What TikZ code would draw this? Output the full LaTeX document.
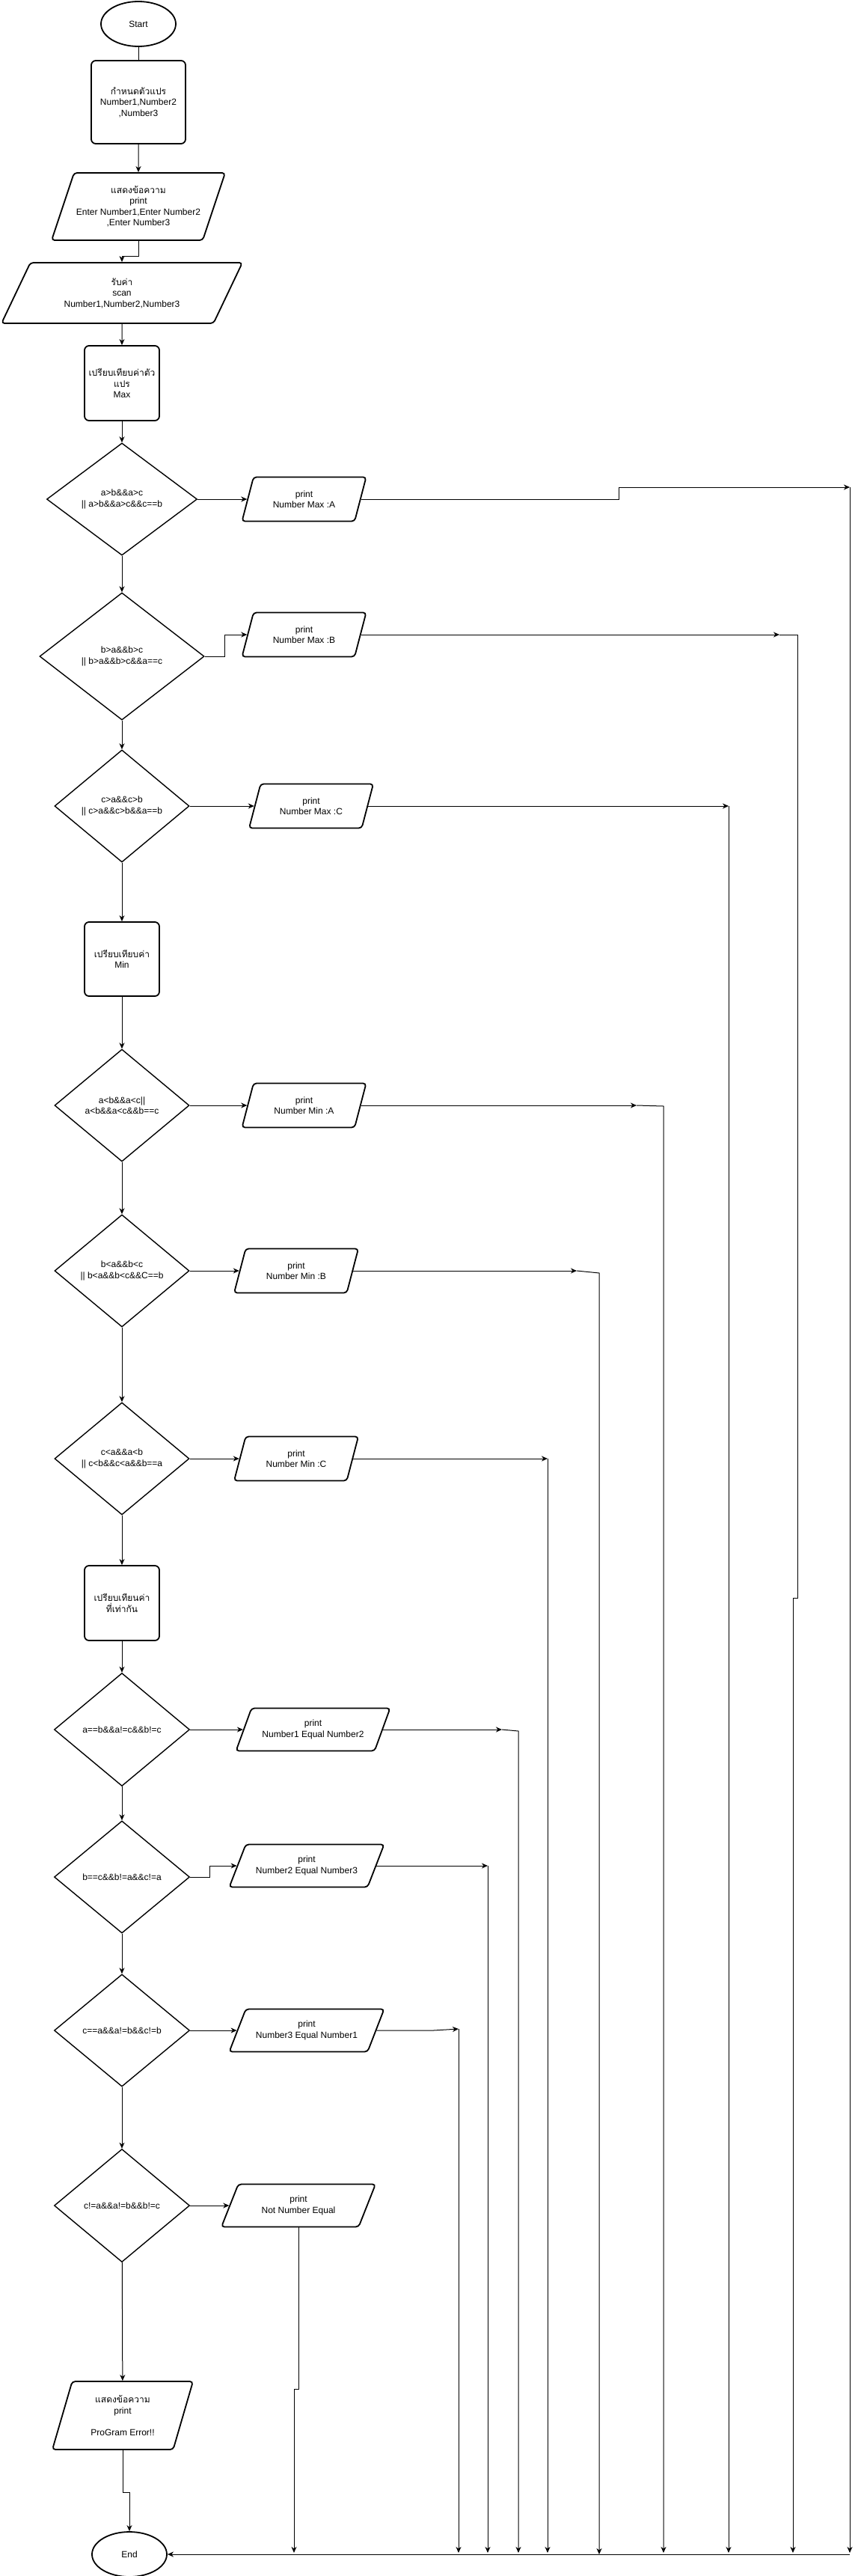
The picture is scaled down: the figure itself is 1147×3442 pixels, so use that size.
\documentclass[tikz,border=0pt]{standalone}
\usepackage{fontspec}
\setmainfont{Liberation Sans}
\newfontfamily\thaifont[Script=Thai]{Loma}
\usetikzlibrary{shapes.geometric,arrows.meta}
\tikzset{>={Stealth[length=8pt,width=7pt,inset=2.5pt]}}
\tikzset{
    every node/.style={font=\fontsize{12}{14.5}\selectfont, align=center, inner sep=0pt},
    term/.style={ellipse, draw, line width=1.8pt, minimum width=100pt, minimum height=60pt},
    procbox/.style={rectangle, draw, rounded corners=6pt, line width=1.8pt, minimum width=100pt, minimum height=100pt},
    decide/.style={diamond, draw, line width=1.4pt, minimum width=181pt, minimum height=150pt},
    iobox/.style={trapezium, draw, rounded corners=4pt, line width=1.8pt, trapezium stretches body},
    prt/.style={iobox, trapezium left angle=56.5, trapezium right angle=123.5, minimum width=166pt, minimum height=59pt},
    link/.style={->, line width=1pt}
}

\begin{document}
\begin{tikzpicture}[x=1pt, y=-1pt]

    \useasboundingbox (0,0) rectangle (1147,3442);

    % main column
    \node[term] (start) at (185,32) {Start};
    \node[procbox, minimum width=126pt, minimum height=111pt] (init) at (185,136.5) {{\thaifont กำหนดตัวแปร}\\Number1,Number2\\,Number3};
    \node[iobox, trapezium left angle=61.4, trapezium right angle=118.6, minimum width=232pt, minimum height=90pt] (msg) at (185,276) {{\thaifont แสดงข้อความ}\\print\\Enter Number1,Enter Number2\\,Enter Number3};
    \node[iobox, trapezium left angle=46.1, trapezium right angle=133.9, minimum width=322pt, minimum height=81pt] (scan) at (163,391.5) {{\thaifont รับค่า}\\scan\\Number1,Number2,Number3};

    \node[procbox] (maxbox) at (163,512) {{\thaifont เปรียบเทียบค่าตัว}\\{\thaifont แปร}\\Max};
    \node[decide, minimum width=201pt] (cmaxa) at (163,667) {a>b\&\&a>c\\|| a>b\&\&a>c\&\&c==b};
    \node[decide, minimum width=220pt, minimum height=170pt] (cmaxb) at (163,877) {b>a\&\&b>c\\|| b>a\&\&b>c\&\&a==c};
    \node[decide, minimum width=180pt] (cmaxc) at (163,1077) {c>a\&\&c>b\\|| c>a\&\&c>b\&\&a==b};

    \node[procbox, minimum height=99pt] (minbox) at (163,1281.5) {{\thaifont เปรียบเทียบค่า}\\Min};
    \node[decide, minimum width=180pt] (cmina) at (163,1477) {a<b\&\&a<c||\\a<b\&\&a<c\&\&b==c};
    \node[decide, minimum width=180pt] (cminb) at (163,1698) {b<a\&\&b<c\\|| b<a\&\&b<c\&\&C==b};
    \node[decide, minimum width=180pt] (cminc) at (163,1949) {c<a\&\&a<b\\|| c<b\&\&c<a\&\&b==a};

    \node[procbox] (eqbox) at (163,2142) {{\thaifont เปรียบเทียนค่า}\\{\thaifont ที่เท่ากัน}};
    \node[decide, minimum height=151pt] (ceqab) at (163,2311) {a==b\&\&a!=c\&\&b!=c};
    \node[decide] (ceqbc) at (163,2508) {b==c\&\&b!=a\&\&c!=a};
    \node[decide] (ceqca) at (163,2713) {c==a\&\&a!=b\&\&c!=b};
    \node[decide, minimum height=151pt] (cneq) at (163,2947) {c!=a\&\&a!=b\&\&b!=c};

    \node[iobox, trapezium left angle=63.7, trapezium right angle=116.3, minimum width=188pt, minimum height=91pt] (err) at (164,3227.5) {{\thaifont แสดงข้อความ}\\print\\ \\ProGram Error!!};
    \node[term] (end) at (173,3413) {End};

    % print boxes
    \node[prt] (pmaxa) at (406.5,667) {print\\Number Max :A};
    \node[prt] (pmaxb) at (406.5,848) {print\\Number Max :B};
    \node[prt] (pmaxc) at (416,1077) {print\\Number Max :C};
    \node[prt] (pmina) at (406.5,1477) {print\\Number Min :A};
    \node[prt] (pminb) at (396,1698) {print\\Number Min :B};
    \node[prt] (pminc) at (396,1949) {print\\Number Min :C};
    \node[iobox, trapezium left angle=51.1, trapezium right angle=128.9, minimum width=206pt, minimum height=57pt] (peqab) at (418.5,2311) {print\\Number1 Equal Number2};
    \node[iobox, trapezium left angle=49.3, trapezium right angle=130.7, minimum width=207pt, minimum height=57pt] (peqbc) at (410,2493) {print\\Number2 Equal Number3};
    \node[iobox, trapezium left angle=49.3, trapezium right angle=130.7, minimum width=207pt, minimum height=57pt] (peqca) at (410,2713) {print\\Number3 Equal Number1};
    \node[iobox, trapezium left angle=48.7, trapezium right angle=131.3, minimum width=206pt, minimum height=57pt] (pneq) at (399,2947) {print\\Not Number Equal};

    % rail ends
    \coordinate (mxa) at (1136,651);
    \coordinate (mxb) at (1042,848);
    \coordinate (mxc) at (974,1077);
    \coordinate (mna) at (851,1477);
    \coordinate (mnb) at (771,1698);
    \coordinate (mnc) at (732,1949);
    \coordinate (eab) at (671,2311);
    \coordinate (ebc) at (652,2493);
    \coordinate (eca) at (613,2711);
    \coordinate (bot) at (0,3411);
    \coordinate (base) at (1136,3413);

    % flow down
    \draw[line width=1pt] (start) -- (init);
    \draw[link] (init) -- (msg);
    \draw[link] (msg.south) -- ++(0,21) -| (scan.north);
    \draw[link] (scan) -- (maxbox);
    \draw[link] (maxbox) -- (cmaxa);
    \draw[link] (cmaxa) -- (cmaxb);
    \draw[link] (cmaxb) -- (cmaxc);
    \draw[link] (cmaxc) -- (minbox);
    \draw[link] (minbox) -- (cmina);
    \draw[link] (cmina) -- (cminb);
    \draw[link] (cminb) -- (cminc);
    \draw[link] (cminc) -- (eqbox);
    \draw[link] (eqbox) -- (ceqab);
    \draw[link] (ceqab) -- (ceqbc);
    \draw[link] (ceqbc) -- (ceqca);
    \draw[link] (ceqca) -- (cneq);
    \draw[link] (cneq) -- (err);
    \draw[link] (err.south) -- ++(0,57) -| (end.north);

    % true branches
    \draw[link] (cmaxa.east) -- (pmaxa.left side);
    \draw[link] (cmaxb.east) -- ++(27,0) |- (pmaxb.left side);
    \draw[link] (cmaxc.east) -- (pmaxc.left side);
    \draw[link] (cmina.east) -- (pmina.left side);
    \draw[link] (cminb.east) -- (pminb.left side);
    \draw[link] (cminc.east) -- (pminc.left side);
    \draw[link] (ceqab.east) -- (peqab.left side);
    \draw[link] (ceqbc.east) -- ++(26,0) |- (peqbc.left side);
    \draw[link] (ceqca.east) -- (peqca.left side);
    \draw[link] (cneq.east) -- (pneq.left side);

    % out to the rails
    \draw[link] (pmaxa.right side) -- ++(345,0) |- (mxa);
    \draw[link] (pmaxb.right side) -- (mxb);
    \draw[link] (pmaxc.right side) -- (mxc);
    \draw[link] (pmina.right side) -- (mna);
    \draw[link] (pminb.right side) -- (mnb);
    \draw[link] (pminc.right side) -- (mnc);
    \draw[link] (peqab.right side) -- (eab);
    \draw[link] (peqbc.right side) -- (ebc);
    \draw[link] (peqca.right side) -- ++(76,0) -- (eca);
    \draw[link] (pneq.south) -- ++(0,216.5) -- ++(-6,0) -- ++(0,218);

    % rails down to the bottom line
    \foreach \m in {mxa,mxc,mnc,ebc,eca}
    {
        \draw[link] (\m) -- (\m |- bot);
    }
    \draw[link] (mxb) -- ++(24,0) -- ++(0,1287) -- ++(-6,0) -- ++(0,1276);
    \draw[link] (mna) -- ++(36,1) -- ++(0,1933);
    \draw[link] (mnb) -- ++(30,3) -- ++(0,1712);
    \draw[link] (eab) -- ++(22,2) -- ++(0,1098);

    \draw[link] (base) -- (end.east);

\end{tikzpicture}
\end{document}
